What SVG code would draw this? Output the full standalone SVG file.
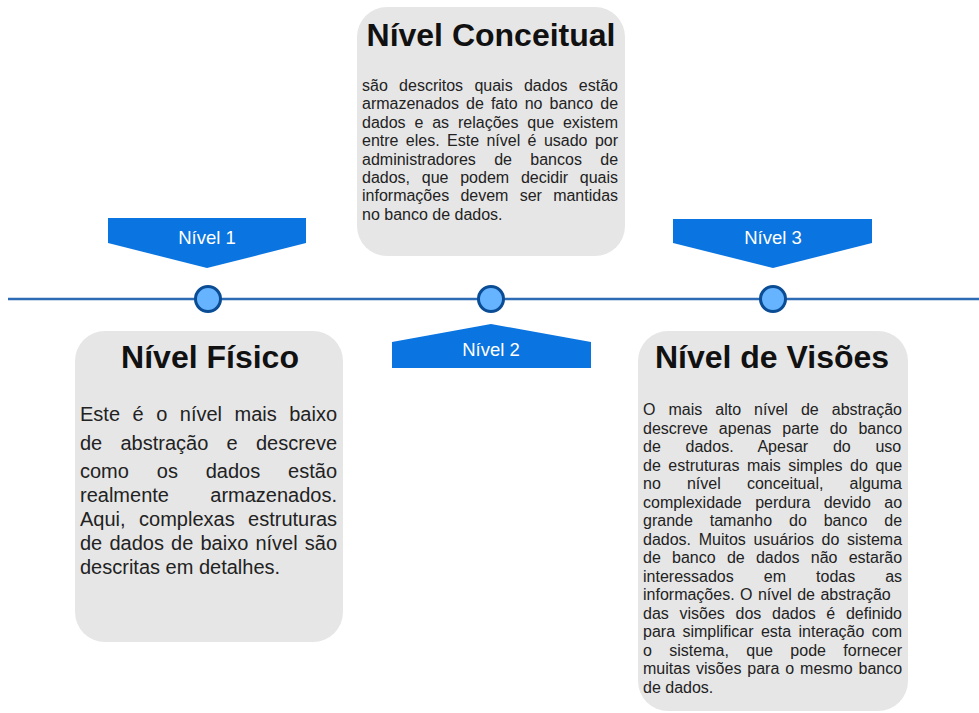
<svg xmlns="http://www.w3.org/2000/svg" width="979" height="713" viewBox="0 0 979 713">
<style>
.box{fill:#e6e6e6;stroke:none}
.title{font-family:"Liberation Sans",Arial,sans-serif;font-weight:bold;font-size:32px;fill:#111;text-anchor:middle}
.b16{font-family:"Liberation Sans",Arial,sans-serif;font-size:16px;fill:#222}
.b20{font-family:"Liberation Sans",Arial,sans-serif;font-size:20px;fill:#222}
.tag{fill:#0a74e0;stroke:none}
.tagt{font-family:"Liberation Sans",Arial,sans-serif;font-size:18.5px;fill:#fff;text-anchor:middle}
.dot{fill:#66b3ff;stroke:#0b4d94;stroke-width:3}
.line{stroke:#2d6cb5;stroke-width:2.5;fill:none}
</style>
<rect width="979" height="713" fill="#ffffff"/>
<g id="connectors">
<line class="line" x1="8" y1="299" x2="979" y2="299"/>
</g>
<g id="nivel-conceitual">
<rect class="box" x="357" y="7" width="268" height="249" rx="30"/>
<text class="title" x="491" y="46">Nível Conceitual</text>
<text class="b16" x="362" y="91" word-spacing="6.85">são descritos quais dados estão</text>
<text class="b16" x="362" y="109.4" word-spacing="2.64">armazenados de fato no banco de</text>
<text class="b16" x="362" y="127.8" word-spacing="4.42">dados e as relações que existem</text>
<text class="b16" x="362" y="146.2" word-spacing="2.94">entre eles. Este nível é usado por</text>
<text class="b16" x="362" y="164.6" word-spacing="13.9">administradores de bancos de</text>
<text class="b16" x="362" y="183" word-spacing="7.3">dados, que podem decidir quais</text>
<text class="b16" x="362" y="201.4" word-spacing="6.8">informações devem ser mantidas</text>
<text class="b16" x="362" y="219.8">no banco de dados.</text>
</g>
<g id="nivel-fisico">
<rect class="box" x="75" y="331" width="268" height="311" rx="30"/>
<text class="title" x="210" y="368">Nível Físico</text>
<text class="b20" x="80" y="421" word-spacing="6.94">Este é o nível mais baixo</text>
<text class="b20" x="80" y="450" word-spacing="12.67">de abstração e descreve</text>
<text class="b20" x="80" y="478" word-spacing="22.3">como os dados estão</text>
<text class="b20" x="80" y="502" word-spacing="35.8">realmente armazenados.</text>
<text class="b20" x="80" y="526" word-spacing="7.9">Aqui, complexas estruturas</text>
<text class="b20" x="80" y="550" word-spacing="1.6">de dados de baixo nível são</text>
<text class="b20" x="80" y="574">descritas em detalhes.</text>
</g>
<g id="nivel-visoes">
<rect class="box" x="638" y="331" width="270" height="380" rx="30"/>
<text class="title" x="772" y="368">Nível de Visões</text>
<text class="b16" x="643" y="415" word-spacing="8.58">O mais alto nível de abstração</text>
<text class="b16" x="643" y="433.5" word-spacing="6.5">descreve apenas parte do banco</text>
<text class="b16" x="643" y="452" word-spacing="20.3">de dados. Apesar do uso</text>
<text class="b16" x="643" y="470.5" word-spacing="3.08">de estruturas mais simples do que</text>
<text class="b16" x="643" y="489" word-spacing="21.7">no nível conceitual, alguma</text>
<text class="b16" x="643" y="507.5" word-spacing="8.97">complexidade perdura devido ao</text>
<text class="b16" x="643" y="526" word-spacing="12.5">grande tamanho do banco de</text>
<text class="b16" x="643" y="544.5" word-spacing="3.18">dados. Muitos usuários do sistema</text>
<text class="b16" x="643" y="563" word-spacing="6.8">de banco de dados não estarão</text>
<text class="b16" x="643" y="581.5" word-spacing="25.6">interessados em todas as</text>
<text class="b16" x="643" y="600" word-spacing="1">informações. O nível de abstração</text>
<text class="b16" x="643" y="618.5" word-spacing="6.26">das visões dos dados é definido</text>
<text class="b16" x="643" y="637" word-spacing="2.95">para simplificar esta interação com</text>
<text class="b16" x="643" y="655.5" word-spacing="12.95">o sistema, que pode fornecer</text>
<text class="b16" x="643" y="674" word-spacing="1.48">muitas visões para o mesmo banco</text>
<text class="b16" x="643" y="692.5">de dados.</text>
</g>
<g id="nivel-1">
<polygon class="tag" points="108,218 306,218 306,243 207,268 108,243"/>
<text class="tagt" x="207" y="244">Nível 1</text>
<circle class="dot" cx="208" cy="299" r="12.5"/>
</g>
<g id="nivel-2">
<polygon class="tag" points="491,324 591,342 591,368 392,368 392,342"/>
<text class="tagt" x="491" y="356">Nível 2</text>
<circle class="dot" cx="491" cy="299" r="12.5"/>
</g>
<g id="nivel-3">
<polygon class="tag" points="673,219 872,219 872,243 773,268 673,243"/>
<text class="tagt" x="773" y="244">Nível 3</text>
<circle class="dot" cx="773" cy="299" r="12.5"/>
</g>
</svg>
